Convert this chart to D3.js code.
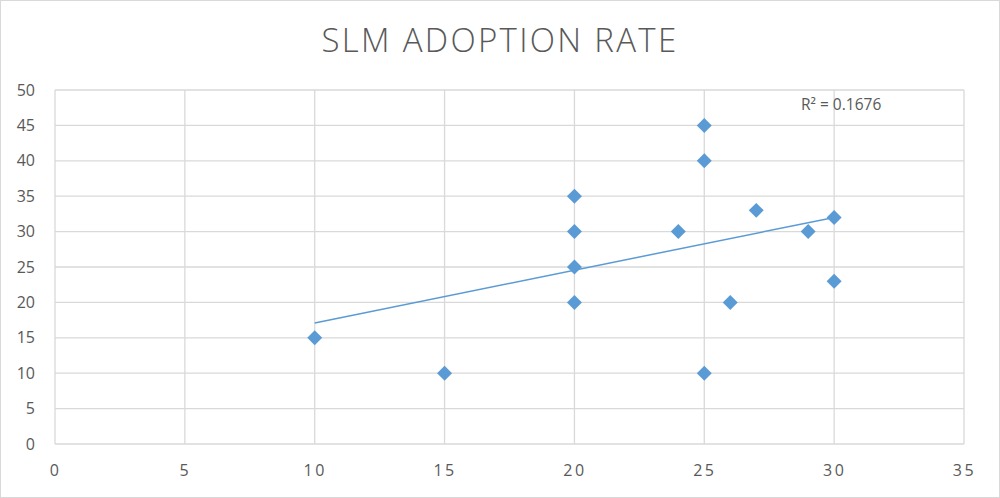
<!DOCTYPE html>
<html>
<head>
<meta charset="utf-8">
<script src="https://cdn.jsdelivr.net/npm/d3@7"></script>
<style>
  body { margin: 0; background: #fff; }
  svg { display: block; font-family: "Open Sans", "Noto Sans", sans-serif; }
</style>
</head>
<body>
<svg id="chart" width="1000" height="498"></svg>
<script>
// data
const xs = [10, 15, 20, 20, 20, 20, 24, 25, 25, 25, 26, 27, 29, 30, 30];
const ys = [15, 10, 20, 25, 30, 35, 30, 10, 40, 45, 20, 33, 30, 32, 23];
const trendX = [10, 30];
const trendY = [17.1, 32.0];
const xTicks = [0, 5, 10, 15, 20, 25, 30, 35];
const yTicks = [0, 5, 10, 15, 20, 25, 30, 35, 40, 45, 50];
const title = "SLM ADOPTION RATE";
const r2Label = "R² = 0.1676";

const svg = d3.select("#chart");
const width = 1000, height = 498;
const margin = {left: 55, right: 36, top: 90, bottom: 54};
const grid = "#d9d9d9", text = "#595959", blue = "#5b9bd5";

// outer chart border
svg.append("rect")
    .attr("x", 0.5).attr("y", 0.5)
    .attr("width", width - 1).attr("height", height - 1)
    .attr("fill", "#fff").attr("stroke", grid);

const x = d3.scaleLinear().domain([0, 35]).range([margin.left, width - margin.right]);
const y = d3.scaleLinear().domain([0, 50]).range([height - margin.bottom, margin.top]);

// gridlines
svg.append("g")
    .selectAll("line.h").data(yTicks).join("line")
    .attr("x1", x(0)).attr("x2", x(35))
    .attr("y1", d => y(d)).attr("y2", d => y(d))
    .attr("stroke", grid).attr("stroke-width", 1.3);
svg.append("g")
    .selectAll("line.v").data(xTicks).join("line")
    .attr("y1", y(0)).attr("y2", y(50))
    .attr("x1", d => x(d)).attr("x2", d => x(d))
    .attr("stroke", grid).attr("stroke-width", 1.3);

// axes (labels only, Excel style)
const xAxis = svg.append("g")
    .attr("transform", `translate(0,${y(0)})`)
    .call(d3.axisBottom(x).tickValues(xTicks).tickSize(0).tickPadding(21));
const yAxis = svg.append("g")
    .attr("transform", `translate(${x(0)},0)`)
    .call(d3.axisLeft(y).tickValues(yTicks).tickSize(0).tickPadding(20));
[xAxis, yAxis].forEach(a => {
    a.select(".domain").remove();
    a.selectAll("text")
        .attr("fill", text)
        .style("font-size", "16px")
        .style("font-family", "\"Open Sans\", sans-serif");
});
xAxis.selectAll("text").style("letter-spacing", "2.5px");

// trendline
const pts = trendX.map((d, i) => [d, trendY[i]]);
svg.append("path")
    .datum(pts)
    .attr("d", d3.line().x(d => x(d[0])).y(d => y(d[1])))
    .attr("fill", "none")
    .attr("stroke", blue)
    .attr("stroke-width", 1.5);

// diamond markers
const data = xs.map((d, i) => ({x: d, y: ys[i]}));
svg.append("g")
    .selectAll("path").data(data).join("path")
    .attr("d", d3.symbol(d3.symbolSquare, 112))
    .attr("transform", d => `translate(${x(d.x)},${y(d.y)}) rotate(45)`)
    .attr("fill", blue);

// title
svg.append("text")
    .attr("x", width / 2).attr("y", 52)
    .attr("text-anchor", "middle")
    .attr("fill", text)
    .style("font-size", "33px")
    .style("font-weight", 300)
    .style("letter-spacing", "2.3px")
    .text(title);

// R² label
svg.append("text")
    .attr("x", 801).attr("y", 110)
    .attr("fill", text)
    .style("font-size", "15.5px")
    .text(r2Label);
</script>
</body>
</html>
